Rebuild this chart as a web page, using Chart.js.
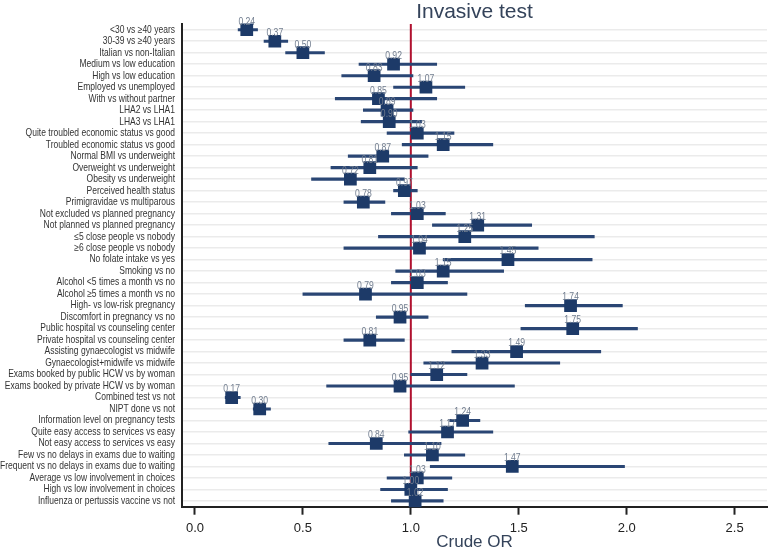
<!DOCTYPE html>
<html>
<head>
<meta charset="utf-8">
<script src="https://cdn.jsdelivr.net/npm/chart.js@4/dist/chart.umd.min.js"></script>
<style>
  body { margin: 0; background: #fff; }
  #wrap { width: 776px; height: 550px; }
</style>
</head>
<body>
<div id="wrap"><canvas id="forest"></canvas></div>
<script>
const labels = [
    "<30 vs \u226540 years",
    "30-39 vs \u226540 years",
    "Italian vs non-Italian",
    "Medium vs low education",
    "High vs low education",
    "Employed vs unemployed",
    "With vs without partner",
    "LHA2 vs LHA1",
    "LHA3 vs LHA1",
    "Quite troubled economic status vs good",
    "Troubled economic status vs good",
    "Normal BMI vs underweight",
    "Overweight vs underweight",
    "Obesity vs underweight",
    "Perceived health status",
    "Primigravidae vs multiparous",
    "Not excluded vs planned pregnancy",
    "Not planned vs planned pregnancy",
    "\u22645 close people vs nobody",
    "\u22656 close people vs nobody",
    "No folate intake vs yes",
    "Smoking vs no",
    "Alcohol <5 times a month vs no",
    "Alcohol \u22655 times a month vs no",
    "High- vs low-risk pregnancy",
    "Discomfort in pregnancy vs no",
    "Public hospital vs counseling center",
    "Private hospital vs counseling center",
    "Assisting gynaecologist vs midwife",
    "Gynaecologist+midwife vs midwife",
    "Exams booked by public HCW vs by woman",
    "Exams booked by private HCW vs by woman",
    "Combined test vs not",
    "NIPT done vs not",
    "Information level on pregnancy tests",
    "Quite easy access to services vs easy",
    "Not easy access to services vs easy",
    "Few vs no delays in exams due to waiting",
    "Frequent vs no delays in exams due to waiting",
    "Average vs low involvement in choices",
    "High vs low involvement in choices",
    "Influenza or pertussis vaccine vs not",
];

const oddsRatio = [
    0.24, 0.37, 0.50, 0.92, 0.83, 1.07, 0.85, 0.89, 0.90, 1.03,
    1.15, 0.87, 0.81, 0.72, 0.97, 0.78, 1.03, 1.31, 1.25, 1.04,
    1.45, 1.15, 1.03, 0.79, 1.74, 0.95, 1.75, 0.81, 1.49, 1.33,
    1.12, 0.95, 0.17, 0.30, 1.24, 1.17, 0.84, 1.10, 1.47, 1.03,
    1.00, 1.02,
];

const ciLow = [
    0.20, 0.32, 0.42, 0.76, 0.68, 0.92, 0.65, 0.78, 0.77, 0.89,
    0.96, 0.71, 0.63, 0.54, 0.92, 0.69, 0.91, 1.10, 0.85, 0.69,
    1.15, 0.93, 0.91, 0.50, 1.53, 0.84, 1.51, 0.69, 1.19, 1.06,
    1.00, 0.61, 0.14, 0.27, 1.18, 0.99, 0.62, 0.97, 1.09, 0.89,
    0.86, 0.91,
];

const ciHigh = [
    0.29, 0.43, 0.60, 1.12, 1.01, 1.25, 1.12, 1.01, 1.05, 1.20,
    1.38, 1.08, 1.03, 0.97, 1.03, 0.88, 1.16, 1.56, 1.85, 1.59,
    1.84, 1.43, 1.17, 1.26, 1.98, 1.08, 2.05, 0.97, 1.88, 1.69,
    1.26, 1.48, 0.21, 0.35, 1.32, 1.38, 1.14, 1.25, 1.99, 1.19,
    1.17, 1.15,
];

const xTicks = [0, 0.5, 1, 1.5, 2, 2.5];
const refValue = 1;

const navy = "#1d3a68";
const sans = "'Liberation Sans', Arial, sans-serif";

// red reference line at OR = 1, behind the marks
const refLine = {
    id: "refLine",
    beforeDatasetsDraw(chart) {
        const { ctx, chartArea } = chart;
        const x = chart.scales.x.getPixelForValue(refValue);
        ctx.save();
        ctx.strokeStyle = "#b0112f";
        ctx.lineWidth = 2;
        ctx.beginPath();
        ctx.moveTo(x, chartArea.top);
        ctx.lineTo(x, chartArea.bottom);
        ctx.stroke();
        ctx.restore();
    },
};

// squeezed text helper, the original uses a narrow face we don't have
function narrowText(ctx, txt, x, y, squeeze) {
    ctx.save();
    ctx.translate(x, y);
    ctx.scale(squeeze, 1);
    ctx.fillText(txt, 0, 0);
    ctx.restore();
}

// the OR value written over each square
const valueLabels = {
    id: "valueLabels",
    afterDatasetsDraw(chart) {
        const { ctx } = chart;
        const meta = chart.getDatasetMeta(1);
        ctx.save();
        ctx.font = "10.5px " + sans;
        ctx.fillStyle = "#717d8f";
        ctx.textAlign = "center";
        ctx.textBaseline = "middle";
        meta.data.forEach((pt, i) => {
            narrowText(ctx, oddsRatio[i].toFixed(2), pt.x, pt.y - 8, 0.82);
        });
        ctx.restore();
    },
};

// y tick labels
const narrowLabels = {
    id: "narrowLabels",
    afterDraw(chart) {
        const { ctx } = chart;
        const y = chart.scales.y;
        ctx.save();
        ctx.font = "10.5px " + sans;
        ctx.fillStyle = "#333";
        ctx.textAlign = "right";
        ctx.textBaseline = "middle";
        labels.forEach((txt, i) => {
            narrowText(ctx, txt, y.right - 7, y.getPixelForTick(i), 0.81);
        });
        ctx.restore();
    },
};

const ciData = ciLow.map((lo, i) => [lo, ciHigh[i]]);

new Chart(document.getElementById("forest"), {
    data: {
        labels: labels,
        datasets: [
            {
                type: "bar",
                indexAxis: "y",
                data: ciData,
                backgroundColor: "#2a4674",
                barThickness: 2.5,
                borderWidth: 0,
                order: 2,
            },
            {
                type: "line",
                indexAxis: "y",
                data: oddsRatio,
                showLine: false,
                pointStyle: "rect",
                pointRadius: 9,
                pointBackgroundColor: navy,
                pointBorderWidth: 0,
                order: 1,
            },
        ],
    },
    options: {
        indexAxis: "y",
        responsive: true,
        maintainAspectRatio: false,
        animation: false,
        layout: { padding: { left: 0, right: 6, top: 0, bottom: 0 } },
        plugins: {
            legend: { display: false },
            tooltip: { enabled: false },
            title: {
                display: true,
                text: "Invasive test",
                fullSize: false,
                color: "#34435a",
                font: { family: sans, size: 21, weight: "normal", lineHeight: 1 },
                padding: { top: 2, bottom: 1 },
            },
        },
        scales: {
            x: {
                type: "linear",
                min: -0.06,
                max: 2.65,
                afterBuildTicks(scale) {
                    scale.ticks = xTicks.map((v) => ({ value: v }));
                },
                grid: {
                    drawOnChartArea: false,
                    drawTicks: true,
                    tickLength: 8,
                    tickColor: "#222",
                    tickWidth: 2,
                },
                border: { color: "#222", width: 2 },
                ticks: {
                    color: "#222",
                    padding: 7,
                    font: { family: sans, size: 13, lineHeight: 1 },
                    callback: (v) => v.toFixed(1),
                },
                title: {
                    display: true,
                    text: "Crude OR",
                    color: "#34435a",
                    padding: { top: -7.5, bottom: 0.5 },
                    font: { family: sans, size: 17, lineHeight: 0.9 },
                },
            },
            y: {
                type: "category",
                offset: true,
                afterFit(scale) {
                    scale.width = 182;
                },
                grid: {
                    offset: false,
                    drawTicks: false,
                    color: "#ebebeb",
                    lineWidth: 1.5,
                },
                border: { color: "#222", width: 2 },
                ticks: {
                    display: false,
                    autoSkip: false,
                },
            },
        },
    },
    plugins: [refLine, valueLabels, narrowLabels],
});
</script>
</body>
</html>
